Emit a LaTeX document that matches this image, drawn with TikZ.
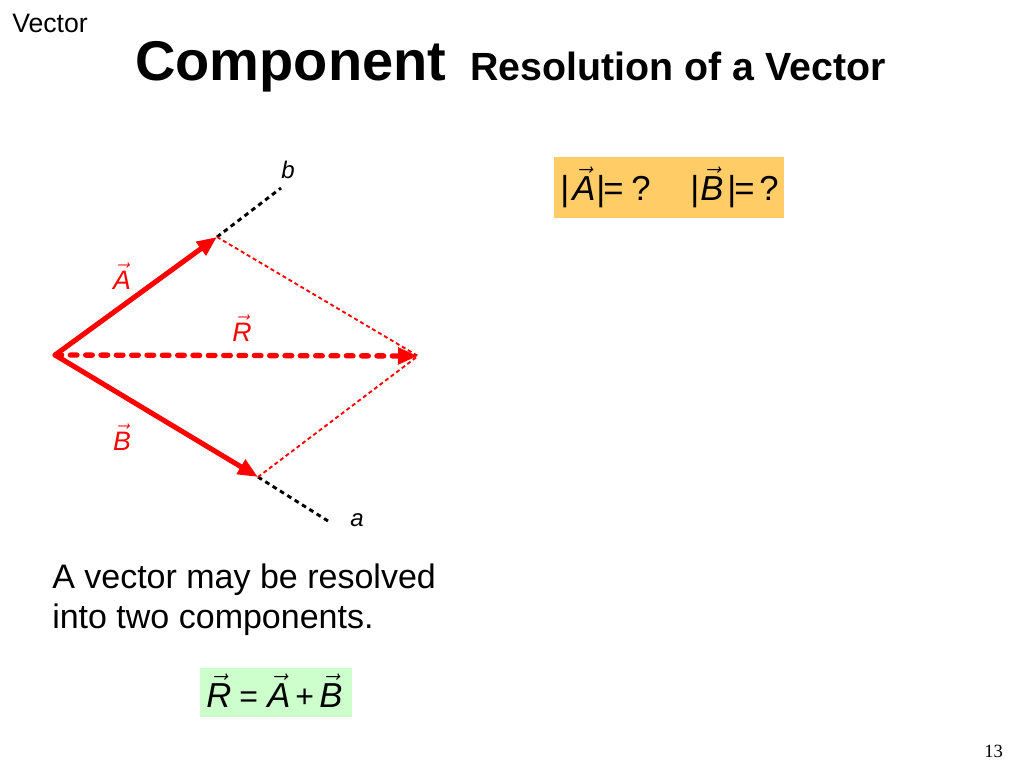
\documentclass[tikz,border=0pt]{standalone}
\usepackage{fontspec}
\setmainfont{Liberation Sans}
\newfontfamily\seriffont{Liberation Serif}
\usetikzlibrary{arrows.meta}
\definecolor{boxorange}{HTML}{FFCC66}
\definecolor{boxgreen}{HTML}{CCFFCC}
\newcommand\myvec[1]{$\vec{\mbox{\itshape #1}}$}
\tikzset{
  vecline/.style={red, line width=3.8pt, -{Triangle[length=15pt,width=12pt]}},
  resline/.style={red, line width=4pt, line cap=round, dash pattern=on 5pt off 6.5pt, -{Triangle[length=15pt,width=12pt]}},
  guideline/.style={red, line width=1.4pt, dash pattern=on 3pt off 2.2pt},
  axisline/.style={black, line width=2.2pt, dash pattern=on 3.5pt off 3pt},
  lbl/.style={inner sep=0pt, font=\fontsize{20}{22}\selectfont},
  axlbl/.style={inner sep=0pt, font=\fontsize{18}{20}\selectfont\itshape},
  txt/.style={inner sep=0pt, anchor=base west},
  boxtxt/.style={txt, font=\fontsize{26}{28}\selectfont},
  eqtxt/.style={txt, font=\fontsize{24}{26}\selectfont},
  eqvar/.style={txt, font=\fontsize{26}{28}\selectfont}
}
\begin{document}
\begin{tikzpicture}[x=0.75pt,y=-0.75pt]
\useasboundingbox (0,0) rectangle (1024,768);
% titles
\node[txt, font=\fontsize{20}{22}\selectfont] (hdr) at (12,32) {Vector};
\node[txt, font=\fontsize{42}{46}\selectfont\bfseries] (t1) at (135,80) {Component};
\node[txt, font=\fontsize{29.5}{32}\selectfont\bfseries] (t2) at (470,80) {Resolution of a Vector};
% coordinates
\coordinate (O) at (55,355);
\coordinate (At) at (217,237);
\coordinate (Bt) at (258,477);
\coordinate (Rt) at (418,356);
\coordinate (bE) at (281,188);
\coordinate (aE) at (328,521);
% guide lines
\draw[axisline] (At) -- (bE);
\draw[axisline] (Bt) -- (aE);
\draw[guideline] (At) -- (Rt);
\draw[guideline] (Bt) -- (Rt);
% vectors
\draw[vecline] (O) -- (At);
\draw[vecline] (O) -- (Bt);
\draw[resline] (O) -- (Rt);
% labels
\node[lbl, red] (lA) at (122,276) {\myvec{A}};
\node[lbl, red] (lR) at (242,328) {\myvec{R}};
\node[lbl, red] (lB) at (122,437) {\myvec{B}};
\node[axlbl] (lb) at (288,170) {b};
\node[axlbl] (la) at (357,520) {a};
% orange box
\fill[boxorange] (554,157) rectangle (784,218);
\node[boxtxt] (q1) at (560,200) {|};
\node[boxtxt] (q2) at (572,200) {\myvec{A}};
\node[boxtxt] (q3) at (596,200) {|};
\node[boxtxt] (q4) at (603,200) {=};
\node[boxtxt] (q5) at (631,200) {?};
\node[boxtxt] (q6) at (690,200) {|};
\node[boxtxt] (q7) at (700,200) {\myvec{B}};
\node[boxtxt] (q8) at (727,200) {|};
\node[boxtxt] (q9) at (734,200) {=};
\node[boxtxt] (q10) at (759,200) {?};
% paragraph
\node[txt, font=\fontsize{25.5}{30}\selectfont] (p1) at (52,588) {A vector may be resolved};
\node[txt, font=\fontsize{25.5}{30}\selectfont] (p2) at (52,628) {into two components.};
% green box
\fill[boxgreen] (200,668) rectangle (352,717);
\node[eqvar] (e1) at (206,707) {\myvec{R}};
\node[eqtxt] (e2) at (239,707) {=};
\node[eqvar] (e3) at (267,707) {\myvec{A}};
\node[eqtxt] (e4) at (295,707) {+};
\node[eqvar] (e5) at (319,707) {\myvec{B}};
% page number
\node[txt, font=\fontsize{14}{16}\selectfont\seriffont] (pg) at (984,757) {13};
\end{tikzpicture}
\end{document}
